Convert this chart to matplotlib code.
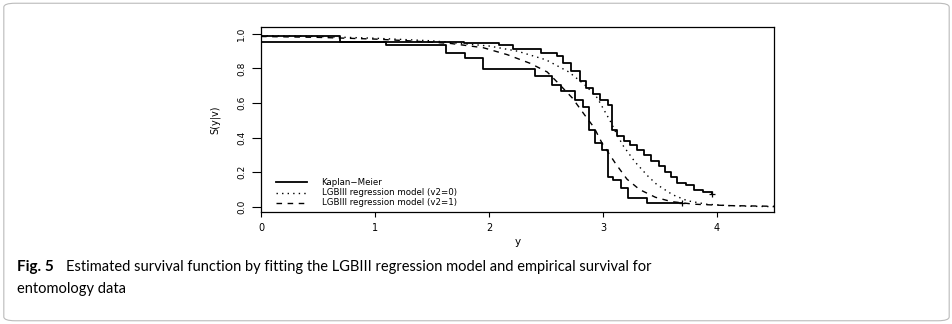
import numpy as np
import matplotlib
matplotlib.use('Agg')
import matplotlib.pyplot as plt
from matplotlib.patches import FancyBboxPatch

# Kaplan-Meier, v2=0 (upper curve)
km0_t = [0, 0.69, 1.78, 2.09, 2.21, 2.46, 2.60, 2.65, 2.72, 2.80, 2.85, 2.91, 2.97, 3.04,
         3.08, 3.12, 3.18, 3.24, 3.30, 3.36, 3.42, 3.49, 3.54, 3.60, 3.65, 3.73, 3.80, 3.88]
km0_s = [0.99, 0.955, 0.945, 0.935, 0.915, 0.89, 0.87, 0.83, 0.785, 0.73, 0.69, 0.655, 0.62, 0.59,
         0.445, 0.41, 0.38, 0.355, 0.33, 0.30, 0.265, 0.235, 0.20, 0.17, 0.14, 0.125, 0.10, 0.085]
km0_end = 3.96
km0_last = 0.075

# Kaplan-Meier, v2=1 (lower curve)
km1_t = [0, 1.10, 1.62, 1.79, 1.95, 2.40, 2.55, 2.63, 2.75, 2.82, 2.88, 2.93, 2.99, 3.04,
         3.09, 3.16, 3.22, 3.39]
km1_s = [0.955, 0.935, 0.89, 0.86, 0.795, 0.755, 0.705, 0.667, 0.618, 0.58, 0.445, 0.37, 0.33, 0.17,
         0.155, 0.11, 0.052, 0.022]
km1_end = 3.69

# LGBIII regression model (v2=0)
m0_t = [0, 0.5, 1.0, 1.5, 2.0, 2.25, 2.5, 2.7, 2.85, 2.95, 3.0, 3.06, 3.12, 3.18, 3.28, 3.39,
        3.47, 3.61, 3.74, 3.91, 4.1, 4.3, 4.5]
m0_s = [0.99, 0.985, 0.975, 0.96, 0.93, 0.90, 0.85, 0.78, 0.70, 0.63, 0.57, 0.50, 0.42, 0.35, 0.26,
        0.18, 0.13, 0.07, 0.035, 0.015, 0.007, 0.003, 0.001]

# LGBIII regression model (v2=1)
m1_t = [0, 0.5, 1.0, 1.3, 1.66, 1.95, 2.16, 2.36, 2.51, 2.6, 2.73, 2.84, 2.92, 2.99, 3.11, 3.21,
        3.32, 3.46, 3.6, 3.8, 4.1, 4.5]
m1_s = [0.985, 0.98, 0.97, 0.96, 0.945, 0.92, 0.88, 0.83, 0.78, 0.72, 0.63, 0.53, 0.46, 0.37, 0.25,
        0.16, 0.10, 0.055, 0.03, 0.015, 0.007, 0.003]

legend_labels = ['Kaplan\u2212Meier', 'LGBIII regression model (v2=0)', 'LGBIII regression model (v2=1)']

fig = plt.figure(figsize=(9.53, 3.24), dpi=100)

# rounded frame round the figure
frame = FancyBboxPatch((0.004, 0.01), 0.992, 0.98, boxstyle='round,pad=0,rounding_size=0.012',
                       transform=fig.transFigure, facecolor='none', edgecolor='#bbbbbb', lw=0.8)
fig.patches.append(frame)

ax = fig.add_axes([0.2739, 0.3457, 0.5383, 0.571])

ax.step(km0_t + [km0_end], km0_s + [km0_last], where='post', color='black', lw=1.3)
ax.step(km1_t + [km1_end], km1_s + [km1_s[-1]], where='post', color='black', lw=1.3)
ax.plot([km0_end, km1_end], [km0_last, km1_s[-1]], '+', color='black', ms=5, mew=0.9)
ax.plot(m0_t, m0_s, color='black', lw=1.0, linestyle=(0, (1, 3)))
ax.plot(m1_t, m1_s, color='black', lw=1.0, linestyle=(0, (4, 4)))

ax.set_xlim(0, 4.5)
ax.set_ylim(-0.03, 1.04)
ax.set_xticks([0, 1, 2, 3, 4])
ax.set_yticks([0, 0.2, 0.4, 0.6, 0.8, 1.0])
ax.set_yticklabels(['0.0', '0.2', '0.4', '0.6', '0.8', '1.0'], rotation=90, va='center')
ax.tick_params(axis='x', length=3.6, width=0.8, labelsize=7, pad=4)
ax.tick_params(axis='y', length=6.5, width=0.8, labelsize=6.5, pad=4)
for s in ax.spines.values():
    s.set_linewidth(0.9)
ax.set_xlabel('y', fontsize=7.5, labelpad=3)
ax.set_ylabel('S(y|v)', fontsize=7, labelpad=12)

# legend drawn by hand in R style (no frame)
hx = [0.03, 0.09]
for i, (lab, ls) in enumerate(zip(legend_labels, ['-', (0, (1, 3)), (0, (4, 4))])):
    yy = 0.16 - i * 0.055
    ax.plot(hx, [yy, yy], transform=ax.transAxes, color='black',
            lw=1.3 if i == 0 else 1.0, linestyle=ls)
    ax.text(0.118, yy, lab, transform=ax.transAxes, fontsize=6.2, va='center',
            family='DejaVu Sans')

fig.text(17 / 953, 1 - 267 / 324, 'Fig. 5', fontsize=11, fontweight='bold', va='center',
         family='Lato')
fig.text(66 / 953, 1 - 267 / 324,
         'Estimated survival function by fitting the LGBIII regression model and empirical survival for',
         fontsize=10.5, va='center', family='Lato')
fig.text(17 / 953, 1 - 289 / 324, 'entomology data', fontsize=10.5, va='center', family='Lato')

fig.savefig('out.png', dpi=100)
